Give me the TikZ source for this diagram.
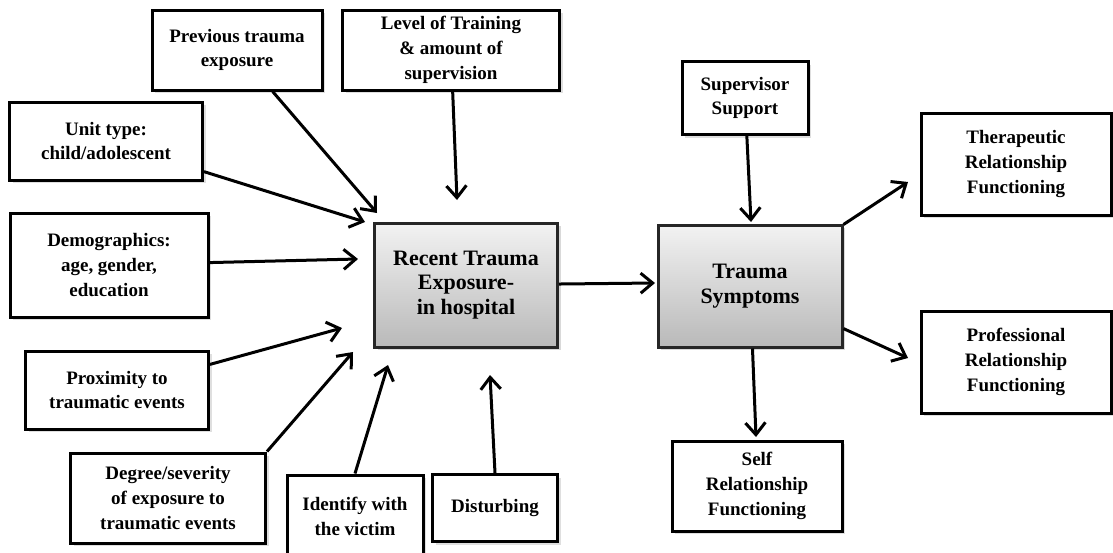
\documentclass[tikz,border=0pt]{standalone}
\usepackage{fontspec}
\setmainfont{Liberation Serif}
\usetikzlibrary{shapes, arrows.meta, positioning, shadows}

\begin{document}
\begin{tikzpicture}[x=0.5pt,y=-0.5pt,>={Straight Barb[length=6pt,width=10pt]},
    every node/.style={draw, rectangle, line width=1.5pt, align=center, inner sep=2pt,
      font=\bfseries\fontsize{9.5}{12.4}\selectfont},
    factor/.style={fill=white, drop shadow={opacity=0.25,shadow xshift=1.5pt,shadow yshift=-1.5pt}},
    core/.style={top color=gray!10, bottom color=gray!55, draw=black!85,
      font=\bfseries\fontsize{11}{12.3}\selectfont,
      drop shadow={opacity=0.3,shadow xshift=1.5pt,shadow yshift=-1.5pt}},
    link/.style={->, line width=1.5pt}]

    \useasboundingbox (0,0) rectangle (1113,552);

    % influences on recent exposure
    \node[factor, minimum width=85pt, minimum height=40pt] (prev) at (237,50) {Previous trauma\\exposure};
    \node[factor, minimum width=108.5pt, minimum height=40pt] (level) at (451,50) {Level of Training\\\& amount of\\supervision};
    \node[factor, minimum width=96.5pt, minimum height=39pt] (unit) at (106,141) {Unit type:\\child/adolescent};
    \node[factor, minimum width=99pt, minimum height=52pt] (demo) at (109,265) {Demographics:\\age, gender,\\education};
    \node[factor, minimum width=91.5pt, minimum height=39pt] (prox) at (117,390) {Proximity to\\traumatic events};
    \node[factor, minimum width=97.5pt, minimum height=45pt] (degree) at (168,498) {Degree/severity\\of exposure to\\traumatic events};
    \node[factor, minimum width=68pt, minimum height=41pt] (ident) at (355,516) {Identify with\\the victim};
    \node[factor, minimum width=62.5pt, minimum height=33.5pt] (dist) at (495,508) {Disturbing};

    % the two main boxes
    \node[core, minimum width=91.5pt, minimum height=62pt] (recent) at (466,285) {Recent Trauma\\Exposure-\\in hospital};
    \node[core, minimum width=92pt, minimum height=61pt] (trauma) at (750,286) {Trauma\\Symptoms};

    % outcomes
    \node[factor, minimum width=63pt, minimum height=36.5pt] (super) at (745,98) {Supervisor\\Support};
    \node[factor, minimum width=95pt, minimum height=51pt] (thera) at (1016,164) {Therapeutic\\Relationship\\Functioning};
    \node[factor, minimum width=95pt, minimum height=51pt] (prof) at (1016,362) {Professional\\Relationship\\Functioning};
    \node[factor, minimum width=85pt, minimum height=45pt] (self) at (757,486) {Self\\Relationship\\Functioning};

    % arrow ends
    \coordinate (inprev) at (377,213);
    \coordinate (inlevel) at (457,200);
    \coordinate (inunit) at (365,222);
    \coordinate (indemo) at (358,259);
    \coordinate (inprox) at (342,328);
    \coordinate (indegree) at (353,352);
    \coordinate (inident) at (388,365);
    \coordinate (indist) at (490,375);
    \coordinate (intrauma) at (655,283);
    \coordinate (insuper) at (751,222);
    \coordinate (inself) at (756,437);
    \coordinate (inthera) at (908,182);
    \coordinate (inprof) at (908,358);

    \foreach \f in {prev,level,unit,demo,prox,super}
      \draw[link] (\f) -- (in\f);
    \draw[link] (degree.north east) -- (indegree);
    \draw[link] (ident.north) -- (inident);
    \draw[link] (dist.north) -- (indist);
    \draw[link] (recent) -- (intrauma);
    \foreach \f in {self,thera,prof}
      \draw[link] (trauma) -- (in\f);
  \end{tikzpicture}
\end{document}
